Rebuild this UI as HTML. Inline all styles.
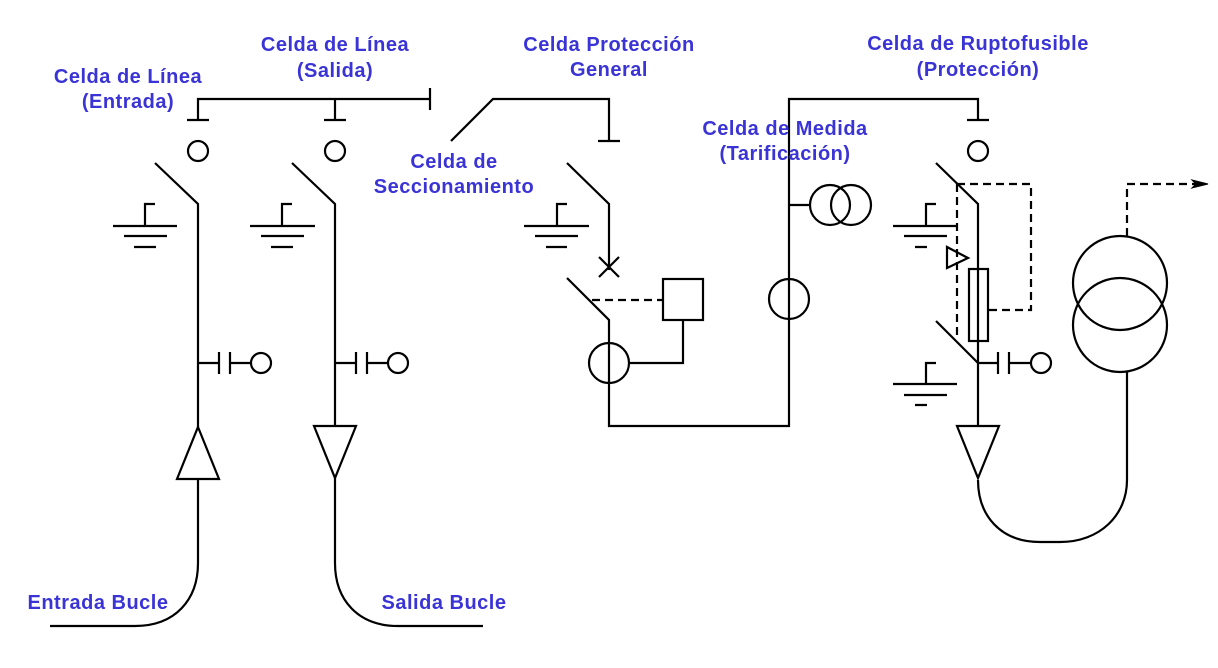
<!DOCTYPE html>
<html><head><meta charset="utf-8"><style>
html,body{margin:0;padding:0;background:#fff;}
svg{display:block;}
text{font-family:"Liberation Sans",Arial,sans-serif;font-weight:bold;font-size:20px;letter-spacing:0.5px;fill:#3a33d6;text-anchor:middle;}
</style></head><body>
<svg width="1218" height="668" viewBox="0 0 1218 668" xmlns="http://www.w3.org/2000/svg">
<g stroke="#000" stroke-width="2.2" fill="none">
<path d="M198 120 V99 H430 M430 88 V110 M335 99 V120"/>
<path d="M187 120 H209"/><circle cx="198" cy="151" r="10"/>
<path d="M155 163 L198 204 V427"/>
<path d="M145 226 V204 H155 M113 226 H177 M124 236 H167 M134 247 H156"/>
<path d="M198 363 H219 M219 352 V374 M230 352 V374 M230 363 H251"/><circle cx="261" cy="363" r="10"/>
<path d="M198 427 L219 479 H177 Z"/>
<path d="M198 479 V563 C198 600 175 626 135 626 H50"/>
<path d="M324 120 H346"/><circle cx="335" cy="151" r="10"/>
<path d="M292 163 L335 204 V426"/>
<path d="M282 226 V204 H292 M250 226 H315 M261 236 H304 M271 247 H293"/>
<path d="M335 363 H356 M356 352 V374 M367 352 V374 M367 363 H388"/><circle cx="398" cy="363" r="10"/>
<path d="M314 426 H356 L335 478 Z"/>
<path d="M335 478 V563 C335 600 358 626 398 626 H483"/>
<path d="M451 141 L493 99 H609 V141 M598 141 H620"/>
<path d="M567 163 L609 204 V270"/>
<path d="M599 257 L619 277 M619 257 L599 277"/>
<path d="M557 226 V204 H567 M524 226 H589 M535 236 H578 M546 247 H567"/>
<path d="M567 278 L609 320 V426 H789 V99 H978 V120 M967 120 H989"/>
<path d="M592 300 H663" stroke-dasharray="8,5"/>
<rect x="663" y="279" width="40" height="41"/>
<path d="M683 320 V363 H629"/>
<circle cx="609" cy="363" r="20"/>
<path d="M789 205 H810"/><circle cx="830" cy="205" r="20"/><circle cx="851" cy="205" r="20"/>
<circle cx="789" cy="299" r="20"/>
<circle cx="978" cy="151" r="10"/>
<path d="M936 163 L978 204 V426"/>
<path d="M957 184 H1031 V310 H988 M957 184 V335" stroke-dasharray="8,5"/>
<path d="M926 226 V204 H936 M893 226 H957 M904 236 H947 M915 247 H927"/>
<path d="M947 247 V268 L968 258 Z"/>
<rect x="969" y="269" width="19" height="72"/>
<path d="M936 321 L978 363"/>
<path d="M978 363 H998 M998 352 V374 M1009 352 V374 M1009 363 H1031"/><circle cx="1041" cy="363" r="10"/>
<path d="M926 384 V363 H936 M893 384 H957 M904 395 H947 M915 405 H927"/>
<path d="M957 426 H999 L978 478 Z"/>
<path d="M978 480 C978 515 1000 542 1040 542 H1060 C1100 542 1127 515 1127 480 V372"/>
<circle cx="1120" cy="283" r="47"/><circle cx="1120" cy="325" r="47"/>
<path d="M1127 236 V184 H1200" stroke-dasharray="8,5"/>
<path d="M1192 180 L1208 184 L1192 188 L1196 184 Z" fill="#000" stroke-width="1"/>
</g>
<text x="128" y="83">Celda de Línea</text>
<text x="128" y="108">(Entrada)</text>
<text x="335" y="51">Celda de Línea</text>
<text x="335" y="77">(Salida)</text>
<text x="609" y="51">Celda Protección</text>
<text x="609" y="76">General</text>
<text x="454" y="168">Celda de</text>
<text x="454" y="193">Seccionamiento</text>
<text x="785" y="135">Celda de Medida</text>
<text x="785" y="160">(Tarificación)</text>
<text x="978" y="50">Celda de Ruptofusible</text>
<text x="978" y="76">(Protección)</text>
<text x="98" y="609">Entrada Bucle</text>
<text x="444" y="609">Salida Bucle</text>
</svg>
</body></html>
